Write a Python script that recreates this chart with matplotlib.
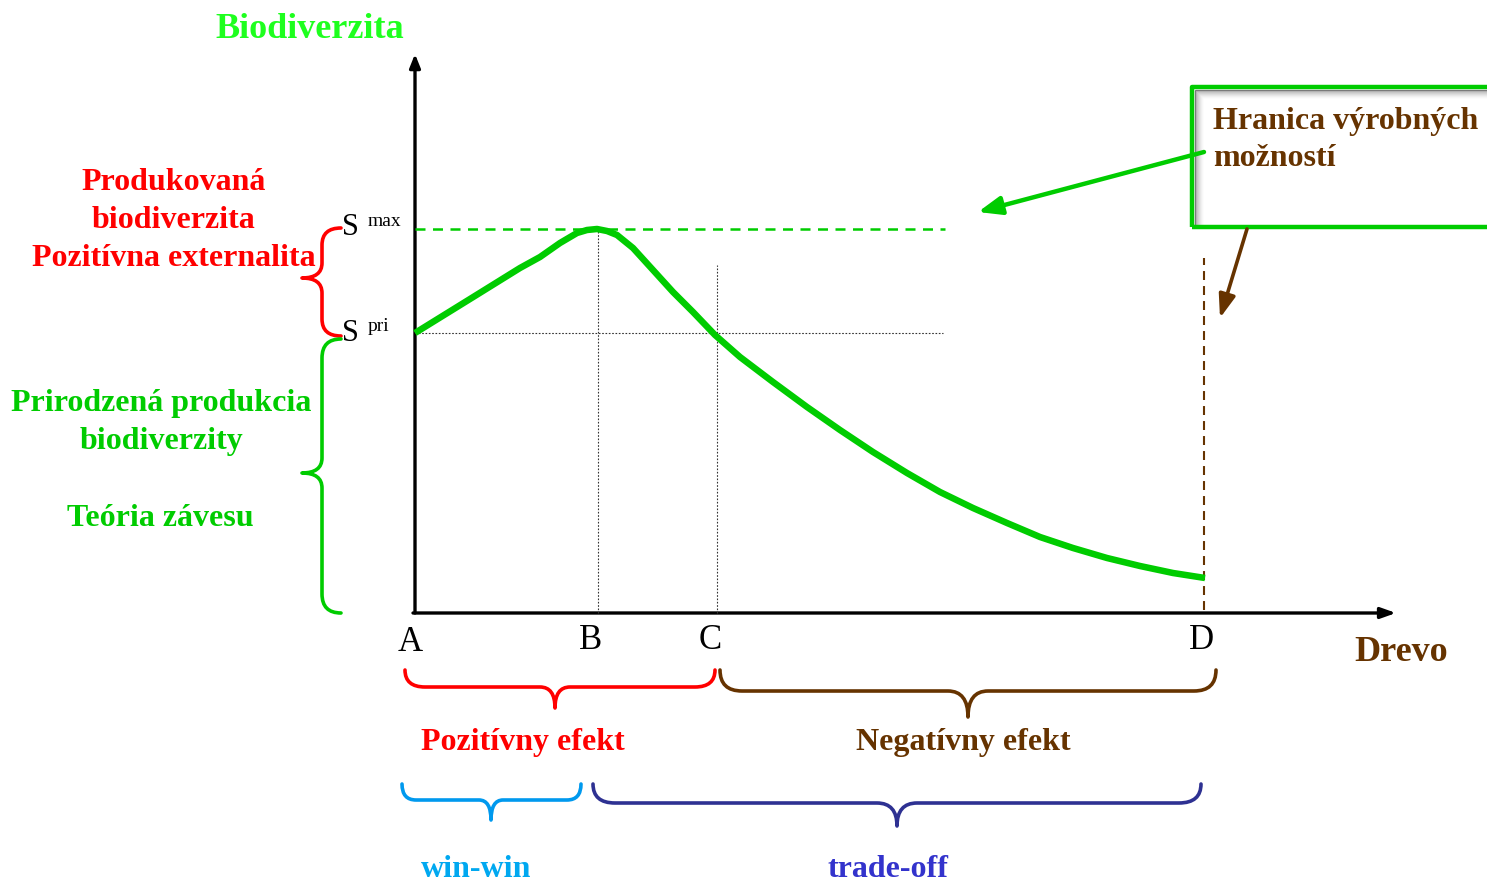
import numpy as np
import matplotlib
matplotlib.use("Agg")
import matplotlib.pyplot as plt
from matplotlib.path import Path
from matplotlib.patches import PathPatch, FancyArrowPatch, Rectangle

# ---------------- data ----------------
point_labels = ["A", "B", "C", "D"]
point_x = [0.0, 1.83, 3.02, 7.89]          # Drevo positions of A, B, C, D
s_max = 3.84                               # S max level
s_pri = 2.80                               # S pri level

curve_x = [0.00, 0.55, 1.05, 1.25, 1.45, 1.62, 1.72, 1.82, 1.92, 2.02, 2.18,
           2.38, 2.58, 2.78, 3.00, 3.25, 3.58, 3.92, 4.25, 4.58, 4.92, 5.25,
           5.58, 5.92, 6.25, 6.58, 6.92, 7.25, 7.58, 7.90]
curve_y = [2.80, 3.14, 3.45, 3.56, 3.70, 3.80, 3.83, 3.84, 3.82, 3.78, 3.65,
           3.43, 3.21, 3.01, 2.78, 2.56, 2.31, 2.06, 1.83, 1.61, 1.40, 1.21,
           1.05, 0.90, 0.76, 0.65, 0.55, 0.47, 0.40, 0.35]

x_label = "Drevo"
y_label = "Biodiverzita"
left_red_lines = ["Produkovaná", "biodiverzita", "Pozitívna externalita"]
left_green_lines = ["Prirodzená produkcia", "biodiverzity"]
left_green_extra = "Teória závesu"
box_lines = ["Hranica výrobných", "možností"]
effect_labels = ["Pozitívny efekt", "Negatívny efekt"]
deal_labels = ["win-win", "trade-off"]

# ---------------- colours ----------------
GREEN = "#00CC00"
LIME = "#1EFF1E"
RED = "#FF0000"
BROWN = "#663300"
LBLUE = "#0099EE"
LBLUE_T = "#00A8F0"
DBLUE = "#2E3192"
DBLUE_T = "#3333CC"

SERIF = ["Liberation Serif", "DejaVu Serif"]

fig = plt.figure(figsize=(14.87, 8.84), dpi=100)
ax = fig.add_axes([0, 0, 1, 1])
ax.set_xlim(-4.15, 10.72)
ax.set_ylim(-2.71, 6.13)
ax.axis("off")


def px(x):
    return (x - 415) / 100.0


def py(y):
    return (613 - y) / 100.0


def txt(x, y, s, color, size, weight="bold", ha="center", va="baseline"):
    ax.text(x, y, s, color=color, fontsize=size, fontweight=weight,
            family=SERIF, ha=ha, va=va)


def brace(a, b, base, line, tip, mid, r, r2, color, lw, vertical=False):
    sg = 1.0 if b > a else -1.0
    r *= sg
    r2 *= sg
    verts = [(a, base), (a, line), (a + r, line),
             (mid - r2, line), (mid, line), (mid, tip),
             (mid, line), (mid + r2, line),
             (b - r, line), (b, line), (b, base)]
    codes = [Path.MOVETO, Path.CURVE3, Path.CURVE3,
             Path.LINETO, Path.CURVE3, Path.CURVE3,
             Path.CURVE3, Path.CURVE3,
             Path.LINETO, Path.CURVE3, Path.CURVE3]
    if vertical:
        verts = [(v, u) for (u, v) in verts]
    ax.add_patch(PathPatch(Path(verts, codes), fill=False, edgecolor=color,
                           lw=lw, capstyle="round", joinstyle="round"))


# ---------------- axes arrows ----------------
ax.add_patch(FancyArrowPatch((0, 0), (0, py(54)),
             arrowstyle="-|>,head_length=8,head_width=3.2", mutation_scale=1,
             color="black", lw=2.4, shrinkA=0, shrinkB=0))
ax.add_patch(FancyArrowPatch((px(413), 0), (px(1396), 0),
             arrowstyle="-|>,head_length=9,head_width=3.2", mutation_scale=1,
             color="black", lw=2.4, shrinkA=0, shrinkB=0))

# ---------------- reference lines ----------------
ax.plot([0, 5.30], [s_max, s_max], color=GREEN, lw=1.8,
        linestyle=(0, (4, 3)))
ax.plot([0, 5.28], [s_pri, s_pri], color="#333333", lw=0.8,
        linestyle=(0, (1.5, 1.5)))
ax.plot([point_x[1], point_x[1]], [0, s_max], color="#333333", lw=0.8,
        linestyle=(0, (1.5, 1.5)))
ax.plot([point_x[2], point_x[2]], [0, 3.48], color="#333333", lw=0.8,
        linestyle=(0, (1.5, 1.5)))
ax.plot([point_x[3], point_x[3]], [0.03, 3.55], color=BROWN, lw=1.5,
        linestyle=(0, (4.3, 2.9)))

# ---------------- main curve ----------------
ax.plot(curve_x, curve_y, color=GREEN, lw=4.7, solid_capstyle="butt",
        solid_joinstyle="round")

# ---------------- point labels ----------------
label_dx = [-0.05, -0.07, -0.07, -0.03]
label_base = [py(651), py(649), py(649), py(649)]
for lab, xv, dx, yb in zip(point_labels, point_x, label_dx, label_base):
    txt(xv + dx, yb, lab, "black", 25, weight="normal")

# S max / S pri
txt(px(342), py(235), "S", "black", 22, weight="normal", ha="left")
txt(px(368), py(226), "max", "black", 14, weight="normal", ha="left")
txt(px(342), py(341), "S", "black", 22, weight="normal", ha="left")
txt(px(368), py(331), "pri", "black", 14, weight="normal", ha="left")

# ---------------- axis titles ----------------
txt(px(310), py(38), y_label, LIME, 26)
txt(px(1401), py(661), x_label, BROWN, 26)

# ---------------- left texts ----------------
for i, s in enumerate(left_red_lines):
    txt(px(173.5), py(190 + 38 * i), s, RED, 23)
for i, s in enumerate(left_green_lines):
    txt(px(161), py(411 + 38.5 * i), s, GREEN, 23)
txt(px(160.5), py(526), left_green_extra, GREEN, 23)

# left braces (vertical)
brace(s_max + 0.01, s_pri - 0.03, px(341), px(322), px(302), py(278),
      0.17, 0.15, RED, 2.6, vertical=True)
brace(s_pri - 0.06, 0.0, px(341), px(322), px(302), py(473),
      0.19, 0.15, GREEN, 2.6, vertical=True)

# bottom braces (horizontal)
brace(point_x[0] - 0.10, point_x[2] - 0.02, py(670), py(687), py(708),
      px(555), 0.2, 0.15, RED, 2.6)
brace(point_x[2] + 0.03, point_x[3] + 0.12, py(670), py(691), py(717),
      px(968), 0.22, 0.2, BROWN, 2.6)
brace(point_x[0] - 0.13, point_x[1] - 0.17, py(784), py(800), py(820),
      px(491), 0.14, 0.12, LBLUE, 2.6)
brace(point_x[1] - 0.05, point_x[3] - 0.03, py(784), py(803), py(826),
      px(897), 0.22, 0.2, DBLUE, 2.6)

for s, xc, col in zip(effect_labels, [523, 963.5], [RED, BROWN]):
    txt(px(xc), py(750), s, col, 23)
txt(px(476.5), py(877), deal_labels[0], LBLUE_T, 23)
txt(px(887.5), py(877), deal_labels[1], DBLUE_T, 23)

# ---------------- text box ----------------
bx0, by0, bx1, by1 = px(1192), py(227), px(1500), py(87)
ax.add_patch(Rectangle((bx0, by0), bx1 - bx0, by1 - by0, facecolor="white",
                       edgecolor="none", zorder=3))
# inner shadow (left and top edges)
for k in range(10):
    a = 0.32 * (1 - k / 10.0) ** 1.6
    off = 0.025 + 0.009 * k
    ax.plot([bx0 + off] * 2, [by0 + 0.02, by1 - off],
            color="black", alpha=a, lw=0.9, zorder=3.5,
            solid_capstyle="butt")
    ax.plot([bx0 + off, bx1], [by1 - off] * 2,
            color="black", alpha=a, lw=0.9, zorder=3.5,
            solid_capstyle="butt")
ax.add_patch(Rectangle((bx0, by0), bx1 - bx0, by1 - by0, facecolor="none",
                       edgecolor=GREEN, lw=3.2, zorder=4, joinstyle="round"))
for i, s in enumerate(box_lines):
    ax.text(px(1213), py(129 + 37 * i), s, color=BROWN, fontsize=23,
            fontweight="bold", family=SERIF, ha="left", va="baseline",
            zorder=5)

# pointer arrows
ax.add_patch(FancyArrowPatch((px(1204), py(152)), (px(978), py(212)),
             arrowstyle="-|>,head_length=14,head_width=5.5", mutation_scale=1,
             color=GREEN, lw=3.2, shrinkA=0, shrinkB=0, zorder=6))
ax.add_patch(FancyArrowPatch((px(1247), py(229)), (px(1220), py(318)),
             arrowstyle="-|>,head_length=14,head_width=5", mutation_scale=1,
             color=BROWN, lw=2.6, shrinkA=0, shrinkB=0, zorder=6))

fig.savefig("out.png", dpi=100, facecolor="white")
